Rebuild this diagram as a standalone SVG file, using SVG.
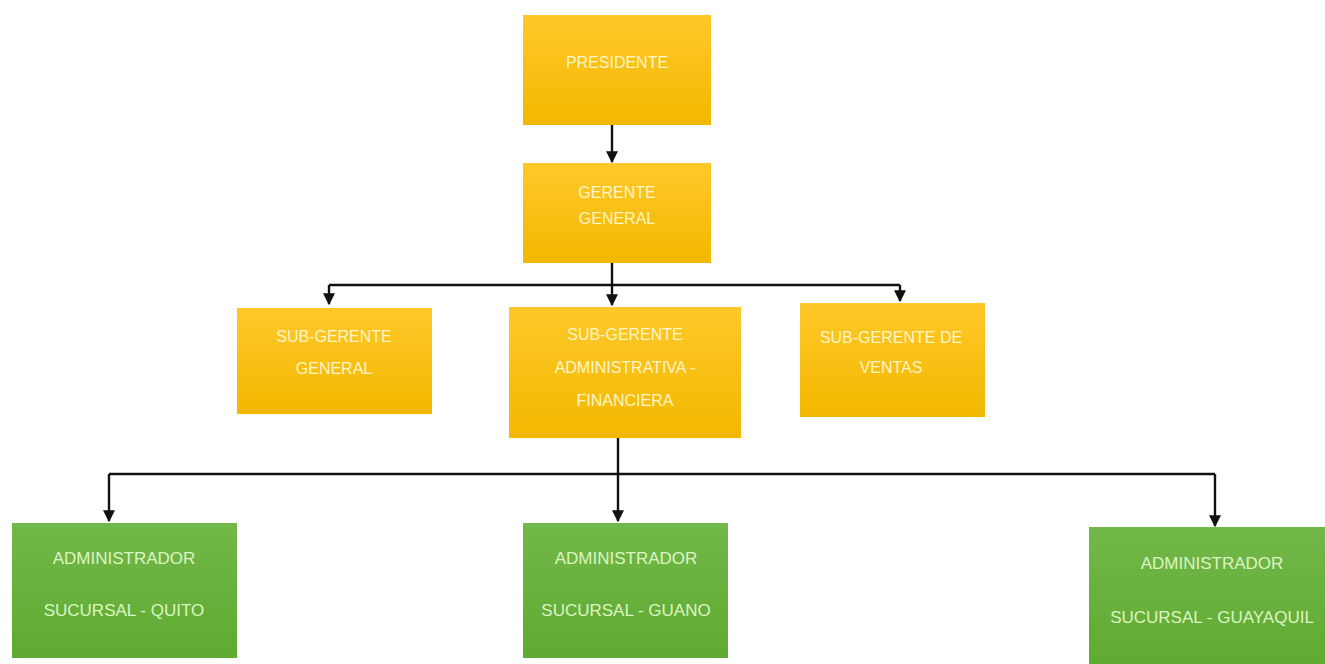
<svg xmlns="http://www.w3.org/2000/svg" width="1325" height="664" viewBox="0 0 1325 664">
<defs>
<linearGradient id="gold" x1="0" y1="0" x2="0" y2="1">
<stop offset="0" stop-color="#FFC82A"/>
<stop offset="1" stop-color="#F2B800"/>
</linearGradient>
<linearGradient id="green" x1="0" y1="0" x2="0" y2="1">
<stop offset="0" stop-color="#72B84A"/>
<stop offset="1" stop-color="#5FAA30"/>
</linearGradient>
<marker id="arr" viewBox="0 0 10 10" refX="9" refY="5" markerWidth="12" markerHeight="12" markerUnits="userSpaceOnUse" orient="auto">
<path d="M0,0 L10,5 L0,10 z" fill="#111"/>
</marker>
<style>
.o{fill:url(#gold)}
.g{fill:url(#green)}
.t{font-family:"Liberation Sans",Arial,sans-serif;font-size:16px;fill:#FFF6C8;text-anchor:middle;dominant-baseline:central}
.tg{font-family:"Liberation Sans",Arial,sans-serif;font-size:17px;fill:#DDF5C4;text-anchor:middle;dominant-baseline:central}
.c{fill:none;stroke:#111;stroke-width:2.4;stroke-linejoin:round}
</style>
</defs>
<rect width="1325" height="664" fill="#fff"/>
<g id="connectors">
<path class="c" d="M612,125 V162" marker-end="url(#arr)"/>
<path class="c" d="M612,263 V305" marker-end="url(#arr)"/>
<path class="c" d="M329,285 H900"/>
<path class="c" d="M329,285 V304" marker-end="url(#arr)"/>
<path class="c" d="M900,285 V301" marker-end="url(#arr)"/>
<path class="c" d="M618,437 V521" marker-end="url(#arr)"/>
<path class="c" d="M109,474 H1215"/>
<path class="c" d="M109,474 V521" marker-end="url(#arr)"/>
<path class="c" d="M1215,474 V526" marker-end="url(#arr)"/>
</g>
<g id="presidente">
<rect class="o" x="523" y="15" width="188" height="110"/>
<text class="t" x="617" y="62">PRESIDENTE</text>
</g>
<g id="gerente-general">
<rect class="o" x="523" y="163" width="188" height="100"/>
<text class="t" x="617" y="192">GERENTE</text>
<text class="t" x="617" y="218">GENERAL</text>
</g>
<g id="sub-gerente-general">
<rect class="o" x="237" y="308" width="195" height="106"/>
<text class="t" x="334" y="336">SUB-GERENTE</text>
<text class="t" x="334" y="368">GENERAL</text>
</g>
<g id="sub-gerente-adm-fin">
<rect class="o" x="509" y="307" width="232" height="131"/>
<text class="t" x="625" y="334">SUB-GERENTE</text>
<text class="t" x="625" y="367">ADMINISTRATIVA -</text>
<text class="t" x="625" y="400">FINANCIERA</text>
</g>
<g id="sub-gerente-ventas">
<rect class="o" x="800" y="303" width="185" height="114"/>
<text class="t" x="891" y="337">SUB-GERENTE DE</text>
<text class="t" x="891" y="367">VENTAS</text>
</g>
<g id="admin-quito">
<rect class="g" x="12" y="523" width="225" height="135"/>
<text class="tg" x="124" y="558">ADMINISTRADOR</text>
<text class="tg" x="124" y="610">SUCURSAL - QUITO</text>
</g>
<g id="admin-guano">
<rect class="g" x="523" y="523" width="205" height="135"/>
<text class="tg" x="626" y="558">ADMINISTRADOR</text>
<text class="tg" x="626" y="610">SUCURSAL - GUANO</text>
</g>
<g id="admin-guayaquil">
<rect class="g" x="1089" y="527" width="250" height="140"/>
<text class="tg" x="1212" y="563">ADMINISTRADOR</text>
<text class="tg" x="1212" y="617">SUCURSAL - GUAYAQUIL</text>
</g>
</svg>
